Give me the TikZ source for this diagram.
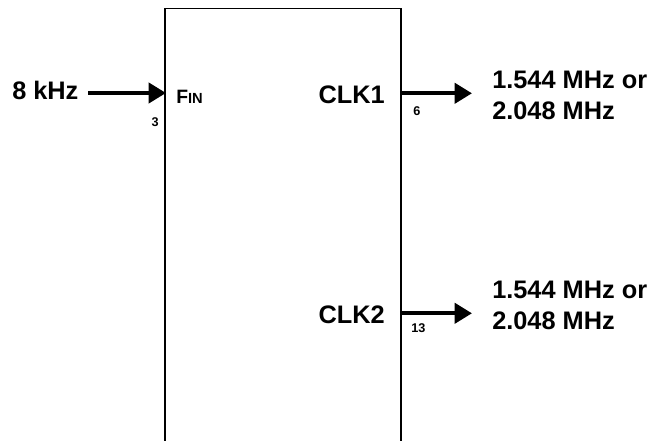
\documentclass[tikz,border=0pt]{standalone}
\usepackage{fontspec}
\setmainfont{Liberation Sans}
\usetikzlibrary{arrows.meta}

\tikzset{
  label/.style={inner sep=0pt, font=\bfseries\fontsize{19}{23.25}\selectfont},
  pinnum/.style={inner sep=0pt, font=\bfseries\fontsize{9.5}{11}\selectfont},
  signal/.style={line width=3pt, -{Triangle[length=13pt,width=15pt]}}
}

\begin{document}
\begin{tikzpicture}[x=0.75pt, y=-0.75pt]
    \useasboundingbox (0,0) rectangle (657,441);
    \clip (0,0) rectangle (657,441);

    % Chip outline
    \draw[line width=1pt] (165,460) -- (165,8.5) -- (401,8.5) -- (401,460);

    % Nodes
    \node (inlabel) [label, anchor=base west] at (12,100) {8 kHz};
    \node (fin) [anchor=base west, inner sep=0pt, font=\bfseries] at (176,104) {\fontsize{14.5}{16}\selectfont F\fontsize{11}{13}\selectfont IN};
    \node (pin3) [pinnum, anchor=base east] at (159,126.7) {3};
    \node (clk1) [label, anchor=base east] at (385,103.3) {CLK1};
    \node (pin6) [pinnum, anchor=base west] at (413,116) {6};
    \node (out1) [label, anchor=base west, align=left] at (492,119.3) {1.544 MHz or\\2.048 MHz};
    \node (clk2) [label, anchor=base east] at (385,323.3) {CLK2};
    \node (pin13) [pinnum, anchor=base west] at (411,332.7) {13};
    \node (out2) [label, anchor=base west, align=left] at (492,329.3) {1.544 MHz or\\2.048 MHz};

    \coordinate (in3) at (166,93);
    \coordinate (src6) at (402,93.3);
    \coordinate (dst6) at (472,93.3);
    \coordinate (src13) at (402,313.3);
    \coordinate (dst13) at (472,313.3);

    % Edges
    \draw[signal, shorten <=7pt] (inlabel.east |- in3) -- (in3);
    \draw[signal] (src6) -- (dst6);
    \draw[signal] (src13) -- (dst13);
\end{tikzpicture}
\end{document}
